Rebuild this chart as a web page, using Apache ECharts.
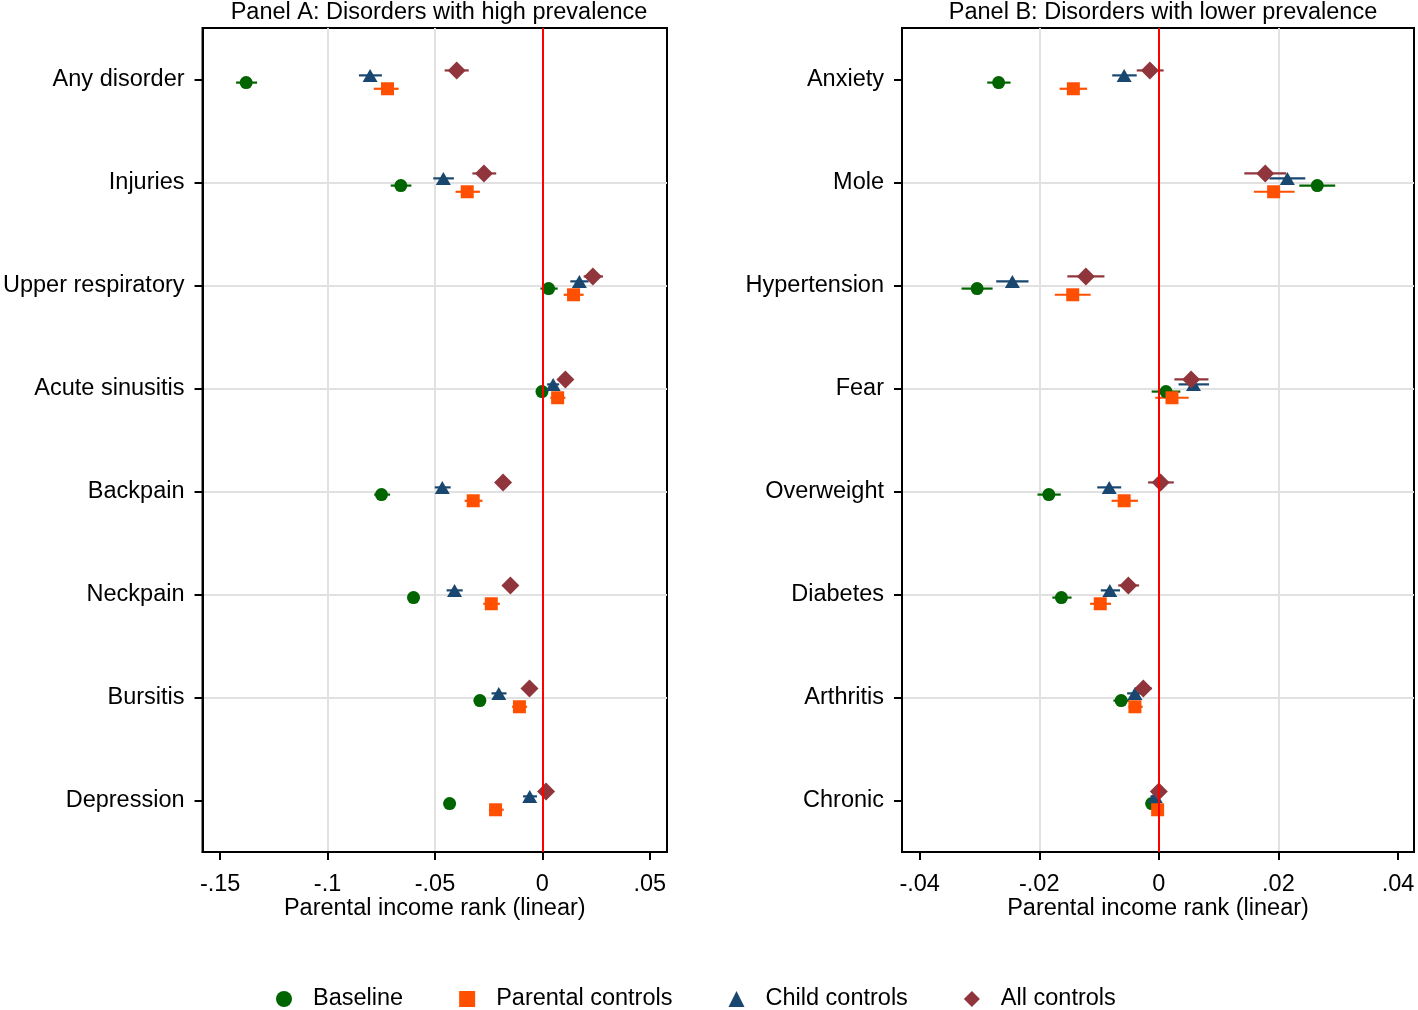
<!DOCTYPE html>
<html><head><meta charset="utf-8">
<script src="https://cdn.jsdelivr.net/npm/echarts@6/dist/echarts.min.js"></script>
<style>html,body{margin:0;padding:0;background:#fff}#c{width:1418px;height:1010px}</style>
</head><body><div id="c"></div>
<script>
// Categories
const catsA = ['Any disorder','Injuries','Upper respiratory','Acute sinusitis','Backpain','Neckpain','Bursitis','Depression'];
const catsB = ['Anxiety','Mole','Hypertension','Fear','Overweight','Diabetes','Arthritis','Chronic'];
const seriesNames = ['Baseline','Parental controls','Child controls','All controls'];
const xTicksA = [-0.15,-0.1,-0.05,0,0.05];
const xTicksB = [-0.04,-0.02,0,0.02,0.04];

// [estimate, lower CI, upper CI] per category
const baselineA = [[-0.1379,-0.1426,-0.1328],[-0.0659,-0.0706,-0.0610],[0.0029,-0.0009,0.0071],[-0.0002,-0.0025,0.0021],[-0.0749,-0.0783,-0.0709],[-0.0600,-0.0628,-0.0572],[-0.0291,-0.0319,-0.0263],[-0.0432,-0.0459,-0.0405]];
const parentalA = [[-0.0721,-0.0785,-0.0669],[-0.0350,-0.0404,-0.0291],[0.0145,0.0099,0.0192],[0.0071,0.0037,0.0107],[-0.0322,-0.0362,-0.0279],[-0.0238,-0.0275,-0.0198],[-0.0107,-0.0141,-0.0071],[-0.0218,-0.0249,-0.0180]];
const childA    = [[-0.0802,-0.0854,-0.0747],[-0.0461,-0.0508,-0.0412],[0.0172,0.0130,0.0215],[0.0050,0.0022,0.0078],[-0.0466,-0.0501,-0.0427],[-0.0409,-0.0446,-0.0371],[-0.0203,-0.0237,-0.0167],[-0.0059,-0.0090,-0.0025]];
const allA      = [[-0.0399,-0.0455,-0.0343],[-0.0272,-0.0326,-0.0215],[0.0235,0.0192,0.0282],[0.0107,0.0085,0.0129],[-0.0183,-0.0210,-0.0156],[-0.0149,-0.0175,-0.0123],[-0.0060,-0.0085,-0.0035],[0.0017,-0.0008,0.0042]];

const baselineB = [[-0.0268,-0.0287,-0.0248],[0.0265,0.0235,0.0295],[-0.0304,-0.0330,-0.0278],[0.0012,-0.0012,0.0036],[-0.0184,-0.0203,-0.0164],[-0.0163,-0.0178,-0.0146],[-0.0063,-0.0076,-0.0050],[-0.0012,-0.0020,-0.0004]];
const parentalB = [[-0.0143,-0.0166,-0.0120],[0.0192,0.0159,0.0227],[-0.0144,-0.0174,-0.0114],[0.0022,-0.0006,0.0050],[-0.0058,-0.0079,-0.0035],[-0.0098,-0.0115,-0.0080],[-0.0040,-0.0051,-0.0027],[-0.0002,-0.0010,0.0006]];
const childB    = [[-0.0058,-0.0078,-0.0037],[0.0215,0.0185,0.0245],[-0.0245,-0.0272,-0.0218],[0.0058,0.0033,0.0084],[-0.0083,-0.0103,-0.0063],[-0.0082,-0.0097,-0.0065],[-0.0040,-0.0053,-0.0027],[-0.0006,-0.0014,0.0002]];
const allB      = [[-0.0015,-0.0037,0.0008],[0.0178,0.0143,0.0213],[-0.0122,-0.0153,-0.0091],[0.0054,0.0026,0.0083],[0.0003,-0.0018,0.0025],[-0.0051,-0.0068,-0.0033],[-0.0026,-0.0040,-0.0012],[0.0000,-0.0008,0.0008]];

const FONT = '"Liberation Sans", Arial, sans-serif';
const FS = 23.5;
const styles = [
  {symbol:'circle', size:13, color:'#006400', off:0.03},
  {symbol:'rect', size:13, color:'#ff4f00', off:0.09},
  {symbol:'triangle', size:[15,13], color:'#1a476f', off:-0.04},
  {symbol:'diamond', size:18, color:'#90353b', off:-0.088}
];
const panels = [
  {cats:catsA, data:[baselineA,parentalA,childA,allA], min:-0.1582, max:0.0580, ticks:xTicksA, left:201, width:466},
  {cats:catsB, data:[baselineB,parentalB,childB,allB], min:-0.04296, max:0.04268, ticks:xTicksB, left:902, width:512}
];
function fmt(v){
  if (Math.abs(v) < 1e-9) return '0';
  let s = String(+v.toFixed(4));
  return s.replace(/^(-?)0\./, '$1.');
}
const catIdx = [1,2,3,4,5,6,7,8];
const grid = [], xAxis = [], yAxis = [], series = [];
panels.forEach((p, pi) => {
  grid.push({left:p.left, top:28, width:p.width, height:824, show:true, borderColor:'#000', borderWidth:2, backgroundColor:'transparent'});
  xAxis.push({
    type:'value', gridIndex:pi, min:p.min, max:p.max,
    minInterval: p.ticks[1]-p.ticks[0], maxInterval: p.ticks[1]-p.ticks[0],
    axisLine:{show:true, onZero:false, lineStyle:{color:'#000', width:2}},
    axisTick:{show:true, length:8, customValues:p.ticks, lineStyle:{color:'#000', width:2}},
    axisLabel:{customValues:p.ticks, formatter:fmt, fontSize:FS, fontFamily:FONT, color:'#000', margin:21},
    splitLine:{show:true, showMinLine:false, showMaxLine:false, lineStyle:{color:'#e1e1e1', width:2}},
    name:'Parental income rank (linear)', nameLocation:'middle', nameGap:45, nameMoveOverlap:false,
    nameTextStyle:{fontSize:FS, fontFamily:FONT, color:'#000'}
  });
  yAxis.push({
    type:'value', gridIndex:pi, inverse:true, min:0.5, max:8.5, minInterval:1, maxInterval:1,
    axisLine:{show:true, onZero:false, lineStyle:{color:'#000', width:2}},
    axisTick:{show:true, length:8, customValues:catIdx, lineStyle:{color:'#000', width:2}},
    axisLabel:{customValues:catIdx, formatter:(v)=>p.cats[Math.round(v)-1] || '', fontSize:FS, fontFamily:FONT, color:'#000', margin:18},
    splitLine:{show:true, showMinLine:false, showMaxLine:false, lineStyle:{color:'#e1e1e1', width:2}}
  });
  // red zero reference line
  series.push({
    type:'scatter', name:'zero'+pi, xAxisIndex:pi, yAxisIndex:pi, data:[], z:1, silent:true,
    markLine:{silent:true, symbol:['none','none'], label:{show:false}, animation:false,
      lineStyle:{color:'#ff0000', width:2, type:'solid'}, data:[{xAxis:0}]}
  });
  p.data.forEach((arr, gi) => {
    const st = styles[gi];
    series.push({
      type:'custom', name:seriesNames[gi]+' CI', xAxisIndex:pi, yAxisIndex:pi, z:2, silent:true,
      data: arr.map((d,i)=>[d[1], d[2], i+1+st.off]),
      encode:{x:[0,1], y:2},
      renderItem:(params, api) => {
        const y = api.value(2);
        const a = api.coord([api.value(0), y]);
        const b = api.coord([api.value(1), y]);
        return {type:'line', shape:{x1:a[0], y1:a[1], x2:b[0], y2:b[1]}, style:{stroke:st.color, lineWidth:2.2}};
      }
    });
    series.push({
      type:'scatter', name:seriesNames[gi], xAxisIndex:pi, yAxisIndex:pi, z:3 + (gi===3?1:0),
      symbol:st.symbol, symbolSize:st.size, itemStyle:{color:st.color, opacity:1},
      data: arr.map((d,i)=>[d[0], i+1+st.off])
    });
  });
});

const chart = echarts.init(document.getElementById('c'), null, {renderer:'canvas'});
chart.setOption({
  animation:false,
  backgroundColor:'#fff',
  textStyle:{fontFamily:FONT},
  title:[
    {text:'Panel A: Disorders with high prevalence', left:434, textAlign:'center', top:-4,
     textStyle:{fontSize:FS, fontWeight:'normal', fontFamily:FONT, color:'#000'}},
    {text:'Panel B: Disorders with lower prevalence', left:1158, textAlign:'center', top:-4,
     textStyle:{fontSize:FS, fontWeight:'normal', fontFamily:FONT, color:'#000'}}
  ],
  legend:{
    data:[{name:'Baseline', icon:'circle'},{name:'Parental controls', icon:'rect'},{name:'Child controls', icon:'triangle'},{name:'All controls', icon:'diamond'}],
    left:271, top:982, itemWidth:16, itemHeight:16, itemGap:56,
    textStyle:{fontSize:FS, fontFamily:FONT, color:'#000', padding:[0,0,0,16]}
  },
  grid, xAxis, yAxis, series
});
</script></body></html>
